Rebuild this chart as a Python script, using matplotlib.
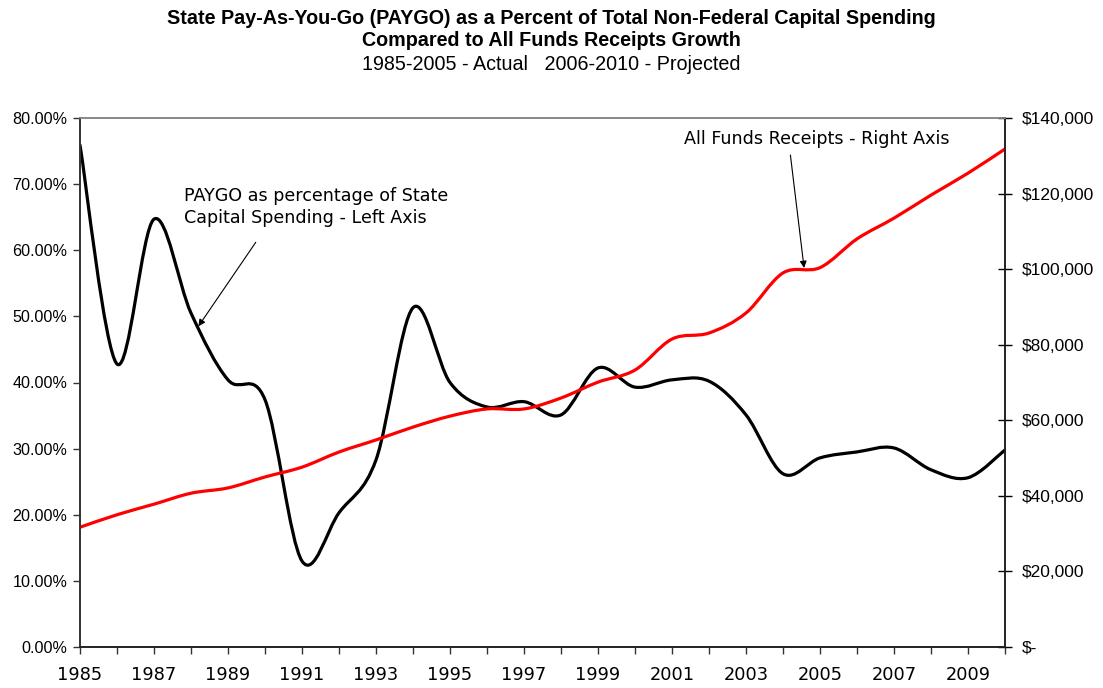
import numpy as np
import matplotlib
matplotlib.use("Agg")
import matplotlib.pyplot as plt
from matplotlib.path import Path
from matplotlib.patches import PathPatch
from matplotlib.ticker import FuncFormatter, MultipleLocator

# data
years = list(range(1985, 2011))
paygo_pct = [75.9, 42.8, 64.7, 50.5, 40.4, 37.4, 13.0, 20.3, 28.3, 51.3,
             40.0, 36.3, 37.1, 35.1, 42.2, 39.3, 40.4, 40.2, 35.1, 26.2,
             28.6, 29.5, 30.1, 26.8, 25.6, 29.8]
receipts = [31700, 35000, 37800, 40700, 42100, 45000, 47600, 51600, 54800, 58200,
            61100, 63000, 63000, 65900, 70100, 73300, 81500, 83100, 88400, 99000,
            100400, 108000, 113500, 119600, 125400, 131800]

title_lines = ["State Pay-As-You-Go (PAYGO) as a Percent of Total Non-Federal Capital Spending",
               "Compared to All Funds Receipts Growth"]
subtitle = "1985-2005 - Actual   2006-2010 - Projected"


def smooth_path(xs, ys):
    # excel style smoothed line: bezier segments through every point
    pts = np.column_stack([xs, ys]).astype(float)
    n = len(pts)
    verts = [pts[0]]
    codes = [Path.MOVETO]
    for i in range(n - 1):
        p0 = pts[max(i - 1, 0)]
        p1 = pts[i]
        p2 = pts[i + 1]
        p3 = pts[min(i + 2, n - 1)]
        verts += [p1 + (p2 - p0) / 6, p2 - (p3 - p1) / 6, p2]
        codes += [Path.CURVE4] * 3
    return Path(verts, codes)


fig = plt.figure(figsize=(11.03, 6.88), dpi=100)
ax = fig.add_axes([80 / 1103, 1 - 647 / 688, 925 / 1103, 529 / 688])
ax2 = ax.twinx()

ax.add_patch(PathPatch(smooth_path(years, paygo_pct), facecolor="none",
                       edgecolor="black", lw=2.3, capstyle="round"))
ax2.add_patch(PathPatch(smooth_path(years, receipts), facecolor="none",
                        edgecolor="#ff0000", lw=2.3, capstyle="round"))

ax.set_xlim(1985, 2010)
ax.set_ylim(0, 80)
ax2.set_ylim(0, 140000)

ax.set_xticks(years)
ax.set_xticklabels([str(y) if (y - 1985) % 2 == 0 else "" for y in years],
                   fontsize=12.8, family="DejaVu Sans")
ax.yaxis.set_major_locator(MultipleLocator(10))
ax.yaxis.set_major_formatter(FuncFormatter(lambda v, p: f"{v:.2f}%"))
ax2.yaxis.set_major_locator(MultipleLocator(20000))
ax2.yaxis.set_major_formatter(FuncFormatter(lambda v, p: "$-" if v == 0 else f"${v:,.0f}"))

for lab in ax.get_yticklabels() + ax2.get_yticklabels():
    lab.set_family("Liberation Sans")
ax.tick_params(axis="y", labelsize=11.6, length=5, width=1, color="#333333", pad=4)
ax.tick_params(axis="x", length=5, width=1, pad=9, color="#333333")
ax2.tick_params(axis="y", labelsize=12.5, direction="inout", length=10, width=1, pad=7)

for a in (ax, ax2):
    a.spines["top"].set_color("#888888")
    a.spines["left"].set_color("#333333")
    a.spines["right"].set_color("#222222")
    a.spines["bottom"].set_color("#222222")
    for s in a.spines.values():
        s.set_linewidth(1.2)

# titles
fig.text(0.5, 1 - 18 / 688, title_lines[0], ha="center", va="center",
         fontsize=14.2, fontweight="bold", family="Liberation Sans")
fig.text(0.5, 1 - 41 / 688, title_lines[1], ha="center", va="center",
         fontsize=14.2, fontweight="bold", family="Liberation Sans")
fig.text(0.5, 1 - 64 / 688, subtitle, ha="center", va="center",
         fontsize=14.2, family="Liberation Sans")

# annotations
arrow = dict(arrowstyle="-|>", color="black", lw=0.8, mutation_scale=10, shrinkA=0, shrinkB=0)
ax.annotate("", xy=(1988.2, 48.5), xytext=(1989.75, 61.2), arrowprops=arrow)
ax.text(1987.8, 66.6, "PAYGO as percentage of State\nCapital Spending - Left Axis",
        fontsize=12.6, family="DejaVu Sans", va="center", ha="left", linespacing=1.3)
ax2.annotate("", xy=(2004.57, 100300), xytext=(2004.2, 130200), arrowprops=arrow)
ax2.text(2004.92, 134400, "All Funds Receipts - Right Axis", fontsize=12.6,
         family="DejaVu Sans", va="center", ha="center")

fig.savefig("out.png", dpi=100)
